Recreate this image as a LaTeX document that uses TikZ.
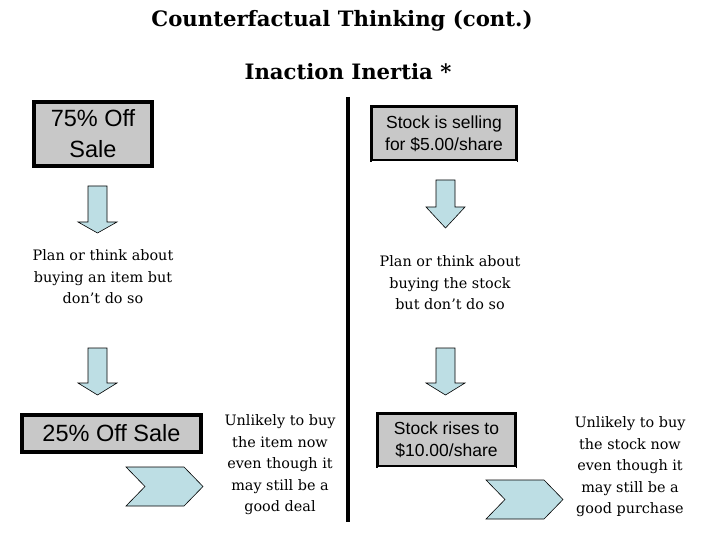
\documentclass[tikz,border=0pt]{standalone}
\usepackage{fontspec}
\setmainfont{DejaVu Serif}
\newfontfamily\boxfont{Liberation Sans}
\usepackage{tikz}

\definecolor{salegray}{RGB}{200,200,200}
\definecolor{arrowblue}{RGB}{189,222,228}

\tikzset{
    salebox/.style={draw, fill=salegray, line width=4pt, inner sep=0pt, align=center, font=\boxfont\fontsize{23.5}{31}\selectfont},
    sharebox/.style={draw, fill=salegray, line width=3pt, inner sep=0pt, align=center, font=\boxfont\fontsize{17.5}{22}\selectfont},
    thought/.style={align=center, inner sep=0pt, font=\fontsize{14.4}{21.5}\selectfont},
    blockarrow/.style={draw, fill=arrowblue, line width=0.6pt, line join=miter}
}

\begin{document}
\begin{tikzpicture}[x=1pt,y=-1pt]
    \useasboundingbox (0,0) rectangle (720,540);

    \node[font=\bfseries\fontsize{21.2}{26}\selectfont] (title) at (342,21) {Counterfactual Thinking (cont.)};
    \node[font=\bfseries\fontsize{21.2}{26}\selectfont] (subtitle) at (348,72) {Inaction Inertia *};

    \draw[line width=4pt] (348,97) -- (348,522);

    % left column
    \node[salebox, minimum width=118pt, minimum height=64pt] (sale75) at (93,134) {75\% Off\\Sale};
    \node[thought] (planitem) at (103,277) {Plan or think about\\buying an item but\\don't do so};
    \node[salebox, minimum width=179pt, minimum height=37pt] (sale25) at (111.5,433.5) {25\% Off Sale};
    \node[thought] (unlikelyitem) at (280,465) {Unlikely to buy\\the item now\\even though it\\may still be a\\good deal};

    % right column
    \node[sharebox, minimum width=145pt, minimum height=54pt] (stock5) at (444,133.5) {Stock is selling\\for \$5.00/share};
    \node[thought] (planstock) at (450,283) {Plan or think about\\buying the stock\\but don't do so};
    \node[sharebox, minimum width=138pt, minimum height=53pt] (stock10) at (446.5,440) {Stock rises to\\\$10.00/share};
    \node[thought] (unlikelystock) at (630,467) {Unlikely to buy\\the stock now\\even though it\\may still be a\\good purchase};

    \draw[white, line width=0.8pt] ([xshift=1.5pt,yshift=1pt]stock5.south west) -- ([xshift=-1.5pt,yshift=1pt]stock5.south east);
    \draw[white, line width=0.8pt] ([xshift=1.5pt,yshift=1pt]stock10.south west) -- ([xshift=-1.5pt,yshift=1pt]stock10.south east);

    % down arrows: centre x / top / start of head / tip
    \foreach \x/\t/\h/\b in {97.5/186/222/233, 445.5/180/207/228, 97.5/348/383/395, 445.5/348/383/395}
        \draw[blockarrow] (\x-9.5,\t) -- (\x+9.5,\t) -- (\x+9.5,\h) -- (\x+19.5,\h)
            -- (\x,\b) -- (\x-19.5,\h) -- (\x-9.5,\h) -- cycle;

    % chevrons
    \foreach \dx/\dy in {0/0, 360/13}
        \draw[blockarrow, shift={(\dx,\dy)}] (126,467) -- (184,467) -- (203,486.5)
            -- (184,506) -- (126,506) -- (145,486.5) -- cycle;
\end{tikzpicture}
\end{document}
